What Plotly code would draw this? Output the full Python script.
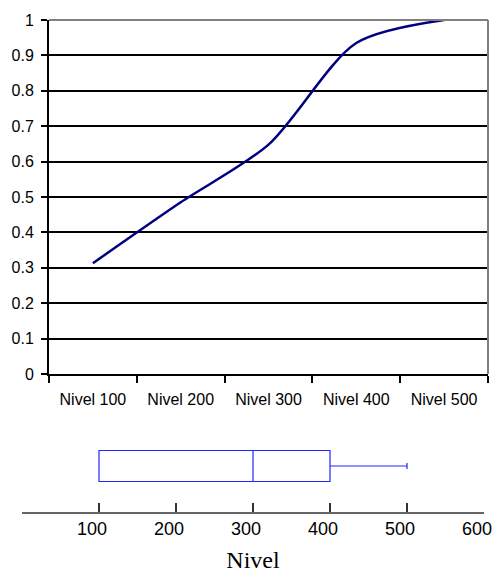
import plotly.graph_objects as go

# ---- data ----
categories = ["Nivel 100", "Nivel 200", "Nivel 300", "Nivel 400", "Nivel 500"]
cumulative = [0.313, 0.485, 0.648, 0.935, 1.0]

box_q1 = [100]
box_median = [300]
box_q3 = [400]
box_lower = [100]
box_upper = [500]

box_tickvals = [0, 100, 200, 300, 400, 500, 600]
box_ticktext = ["", "100", "200", "300", "400", "500", "600"]

fig = go.Figure()

fig.add_trace(go.Scatter(
    x=categories, y=cumulative, mode="lines",
    line=dict(color="#000080", width=2.5, shape="spline", smoothing=0.8),
    xaxis="x", yaxis="y", hoverinfo="skip", showlegend=False,
))

fig.add_trace(go.Box(
    orientation="h", y=[0],
    q1=box_q1, median=box_median, q3=box_q3,
    lowerfence=box_lower, upperfence=box_upper,
    width=0.674, whiskerwidth=0.2,
    line=dict(color="#2424ff", width=1.2), fillcolor="white",
    boxpoints=False, xaxis="x2", yaxis="y2", hoverinfo="skip", showlegend=False,
))

sans = "Liberation Sans, Arial, sans-serif"

fig.update_layout(
    template="none",
    width=497, height=573,
    margin=dict(l=22, r=9, t=20, b=61, autoexpand=False),
    paper_bgcolor="white", plot_bgcolor="white",
    showlegend=False,
    font=dict(family=sans, size=16, color="black"),
    xaxis=dict(
        domain=[27 / 466, 1.0], anchor="y",
        type="category", categoryorder="array", categoryarray=categories,
        range=[-0.5, 4.5], tickson="boundaries",
        ticks="outside", ticklen=7, tickwidth=2, tickcolor="black",
        showline=True, linecolor="black", linewidth=2,
        showgrid=False, zeroline=False, automargin=False,
        tickfont=dict(family=sans, size=16, color="black"),
        ticklabelstandoff=10,
    ),
    yaxis=dict(
        domain=[138 / 492, 1.0], anchor="x",
        range=[0, 1], dtick=0.1, tick0=0,
        ticks="outside", ticklen=6, tickwidth=2, tickcolor="black",
        showline=True, linecolor="black", linewidth=2,
        showgrid=True, gridcolor="black", gridwidth=2,
        zeroline=False, automargin=False,
        tickfont=dict(family=sans, size=16, color="black"),
        ticklabelstandoff=4,
    ),
    xaxis2=dict(
        domain=[0, 462 / 466], anchor="y2",
        range=[0, 600], tickmode="array",
        tickvals=box_tickvals, ticktext=box_ticktext,
        ticks="inside", ticklen=9, tickwidth=2, tickcolor="#333333",
        showline=True, linecolor="#666666", linewidth=1.5,
        showgrid=False, zeroline=False, automargin=False,
        ticklabeloverflow="allow", ticklabelshift=-7,
        tickfont=dict(family=sans, size=18, color="black"),
        title=dict(text="Nivel", font=dict(family="Liberation Serif, Times New Roman, serif", size=24, color="black"), standoff=14),
    ),
    yaxis2=dict(
        domain=[0, 92 / 492], anchor="x2",
        range=[-1, 1], visible=False, showgrid=False, zeroline=False,
    ),
    shapes=[
        dict(type="line", xref="x domain", yref="y domain", x0=0, x1=1, y0=1, y1=1,
             line=dict(color="#808080", width=2), layer="above"),
        dict(type="line", xref="x domain", yref="y domain", x0=1, x1=1, y0=0, y1=1,
             line=dict(color="#808080", width=2), layer="above"),
    ],
)

fig.write_html("out.html", config={"displayModeBar": False},
               post_script="document.body.style.margin='0';")
